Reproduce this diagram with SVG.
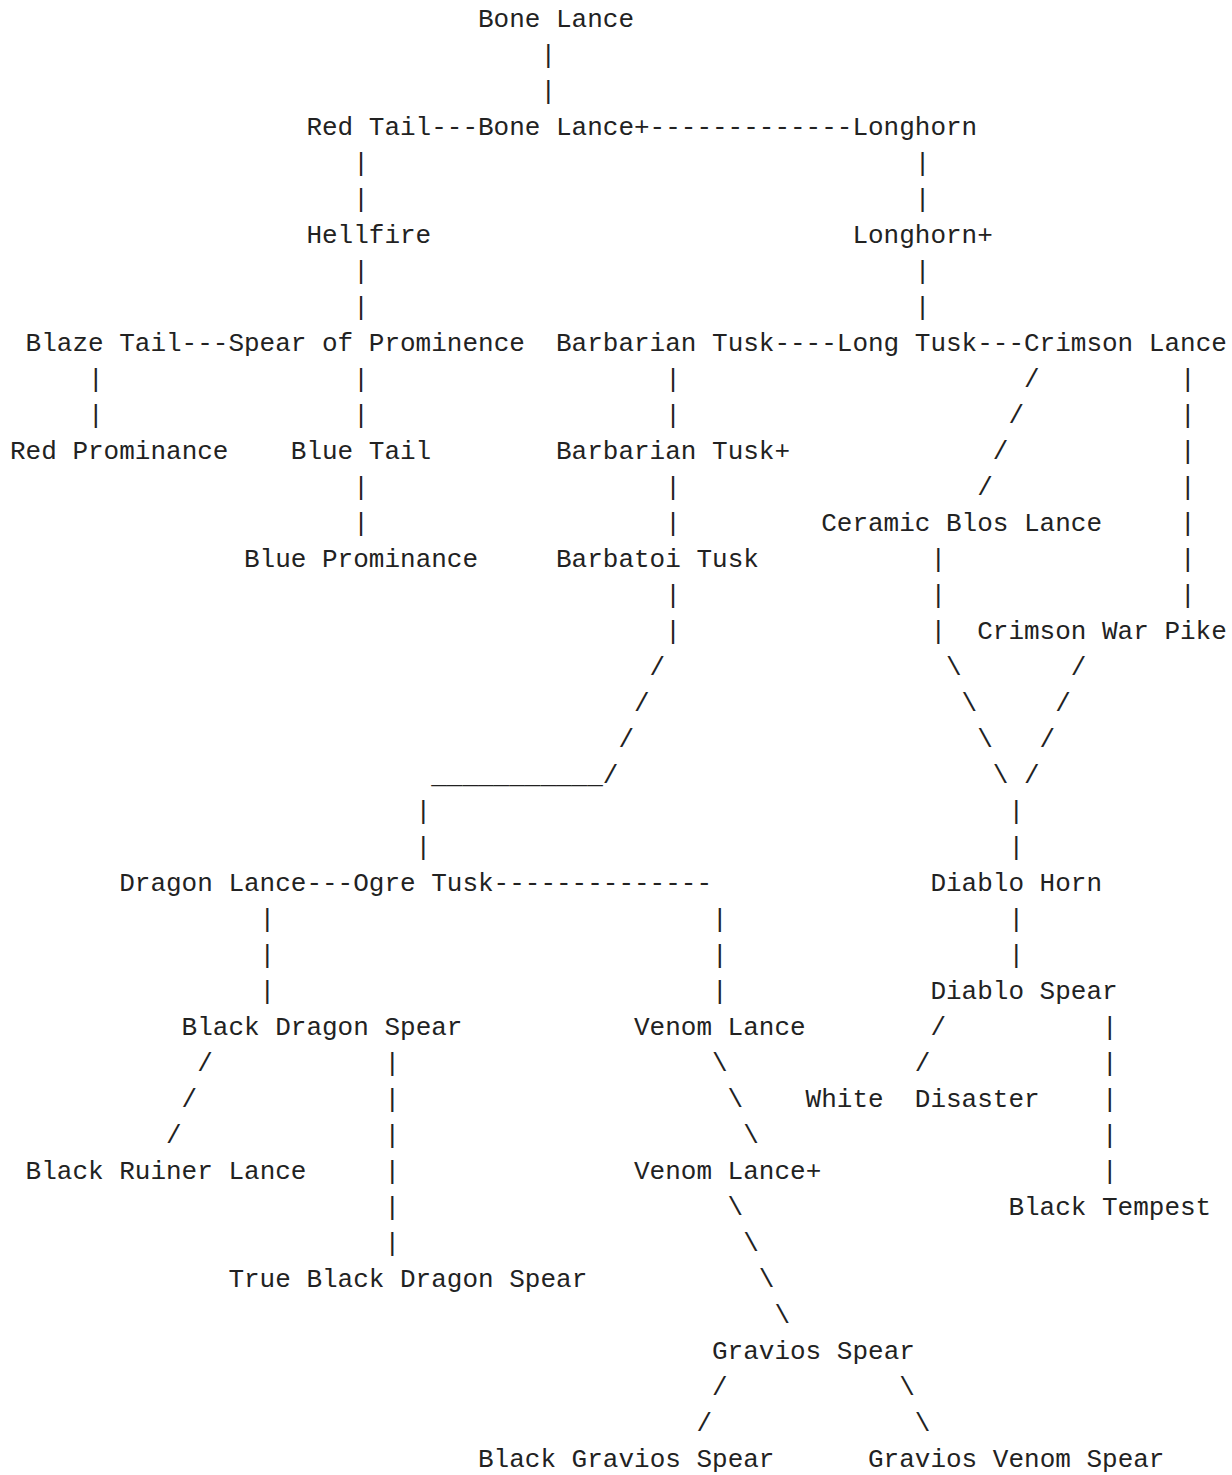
<svg xmlns="http://www.w3.org/2000/svg" width="1232" height="1475" viewBox="0 0 1232 1475">
<style>
text{font-family:"Liberation Mono","Courier New",monospace;font-size:26px;fill:#222;white-space:pre}
</style>
<rect width="1232" height="1475" fill="#ffffff"/>
<g id="connectors">
<text x="540.4" y="63">|</text>
<text x="540.4" y="99">|</text>
<text x="431.2" y="135">---</text>
<text x="649.6" y="135">-------------</text>
<text x="353.2" y="171">|</text><text x="914.8" y="171">|</text>
<text x="353.2" y="207">|</text><text x="914.8" y="207">|</text>
<text x="353.2" y="279">|</text><text x="914.8" y="279">|</text>
<text x="353.2" y="315">|</text><text x="914.8" y="315">|</text>
<text x="181.6" y="351">---</text>
<text x="774.4" y="351">----</text>
<text x="977.2" y="351">---</text>
<text x="88" y="387">|</text><text x="353.2" y="387">|</text><text x="665.2" y="387">|</text><text x="1024" y="387">/</text><text x="1180" y="387">|</text>
<text x="88" y="423">|</text><text x="353.2" y="423">|</text><text x="665.2" y="423">|</text><text x="1008.4" y="423">/</text><text x="1180" y="423">|</text>
<text x="992.8" y="459">/</text><text x="1180" y="459">|</text>
<text x="353.2" y="495">|</text><text x="665.2" y="495">|</text><text x="977.2" y="495">/</text><text x="1180" y="495">|</text>
<text x="353.2" y="531">|</text><text x="665.2" y="531">|</text><text x="1180" y="531">|</text>
<text x="930.4" y="567">|</text><text x="1180" y="567">|</text>
<text x="665.2" y="603">|</text><text x="930.4" y="603">|</text><text x="1180" y="603">|</text>
<text x="665.2" y="639">|</text><text x="930.4" y="639">|</text>
<text x="649.6" y="675">/</text><text x="946" y="675">\</text><text x="1070.8" y="675">/</text>
<text x="634" y="711">/</text><text x="961.6" y="711">\</text><text x="1055.2" y="711">/</text>
<text x="618.4" y="747">/</text><text x="977.2" y="747">\</text><text x="1039.6" y="747">/</text>
<text x="431.2" y="783">___________/</text><text x="992.8" y="783">\</text><text x="1024" y="783">/</text>
<text x="415.6" y="819">|</text><text x="1008.4" y="819">|</text>
<text x="415.6" y="855">|</text><text x="1008.4" y="855">|</text>
<text x="306.4" y="891">---</text>
<text x="493.6" y="891">--------------</text>
<text x="259.6" y="927">|</text><text x="712" y="927">|</text><text x="1008.4" y="927">|</text>
<text x="259.6" y="963">|</text><text x="712" y="963">|</text><text x="1008.4" y="963">|</text>
<text x="259.6" y="999">|</text><text x="712" y="999">|</text>
<text x="930.4" y="1035">/</text><text x="1102" y="1035">|</text>
<text x="197.2" y="1071">/</text><text x="384.4" y="1071">|</text><text x="712" y="1071">\</text><text x="914.8" y="1071">/</text><text x="1102" y="1071">|</text>
<text x="181.6" y="1107">/</text><text x="384.4" y="1107">|</text><text x="727.6" y="1107">\</text><text x="1102" y="1107">|</text>
<text x="166" y="1143">/</text><text x="384.4" y="1143">|</text><text x="743.2" y="1143">\</text><text x="1102" y="1143">|</text>
<text x="384.4" y="1179">|</text><text x="1102" y="1179">|</text>
<text x="384.4" y="1215">|</text><text x="727.6" y="1215">\</text>
<text x="384.4" y="1251">|</text><text x="743.2" y="1251">\</text>
<text x="758.8" y="1287">\</text>
<text x="774.4" y="1323">\</text>
<text x="712" y="1395">/</text><text x="899.2" y="1395">\</text>
<text x="696.4" y="1431">/</text><text x="914.8" y="1431">\</text>
</g>
<g id="bone-lance"><text x="478" y="27">Bone Lance</text></g>
<g id="red-tail"><text x="306.4" y="135">Red Tail</text></g>
<g id="bone-lance-plus"><text x="478" y="135">Bone Lance+</text></g>
<g id="longhorn"><text x="852.4" y="135">Longhorn</text></g>
<g id="hellfire"><text x="306.4" y="243">Hellfire</text></g>
<g id="longhorn-plus"><text x="852.4" y="243">Longhorn+</text></g>
<g id="blaze-tail"><text x="25.6" y="351">Blaze Tail</text></g>
<g id="spear-of-prominence"><text x="228.4" y="351">Spear of Prominence</text></g>
<g id="barbarian-tusk"><text x="556" y="351">Barbarian Tusk</text></g>
<g id="long-tusk"><text x="836.8" y="351">Long Tusk</text></g>
<g id="crimson-lance"><text x="1024" y="351">Crimson Lance</text></g>
<g id="red-prominance"><text x="10" y="459">Red Prominance</text></g>
<g id="blue-tail"><text x="290.8" y="459">Blue Tail</text></g>
<g id="barbarian-tusk-plus"><text x="556" y="459">Barbarian Tusk+</text></g>
<g id="ceramic-blos-lance"><text x="821.2" y="531">Ceramic Blos Lance</text></g>
<g id="blue-prominance"><text x="244" y="567">Blue Prominance</text></g>
<g id="barbatoi-tusk"><text x="556" y="567">Barbatoi Tusk</text></g>
<g id="crimson-war-pike"><text x="977.2" y="639">Crimson War Pike</text></g>
<g id="dragon-lance"><text x="119.2" y="891">Dragon Lance</text></g>
<g id="ogre-tusk"><text x="353.2" y="891">Ogre Tusk</text></g>
<g id="diablo-horn"><text x="930.4" y="891">Diablo Horn</text></g>
<g id="diablo-spear"><text x="930.4" y="999">Diablo Spear</text></g>
<g id="black-dragon-spear"><text x="181.6" y="1035">Black Dragon Spear</text></g>
<g id="venom-lance"><text x="634" y="1035">Venom Lance</text></g>
<g id="white-disaster"><text x="805.6" y="1107" xml:space="preserve">White  Disaster</text></g>
<g id="black-ruiner-lance"><text x="25.6" y="1179">Black Ruiner Lance</text></g>
<g id="venom-lance-plus"><text x="634" y="1179">Venom Lance+</text></g>
<g id="black-tempest"><text x="1008.4" y="1215">Black Tempest</text></g>
<g id="true-black-dragon-spear"><text x="228.4" y="1287">True Black Dragon Spear</text></g>
<g id="gravios-spear"><text x="712" y="1359">Gravios Spear</text></g>
<g id="black-gravios-spear"><text x="478" y="1467">Black Gravios Spear</text></g>
<g id="gravios-venom-spear"><text x="868" y="1467">Gravios Venom Spear</text></g>
</svg>
